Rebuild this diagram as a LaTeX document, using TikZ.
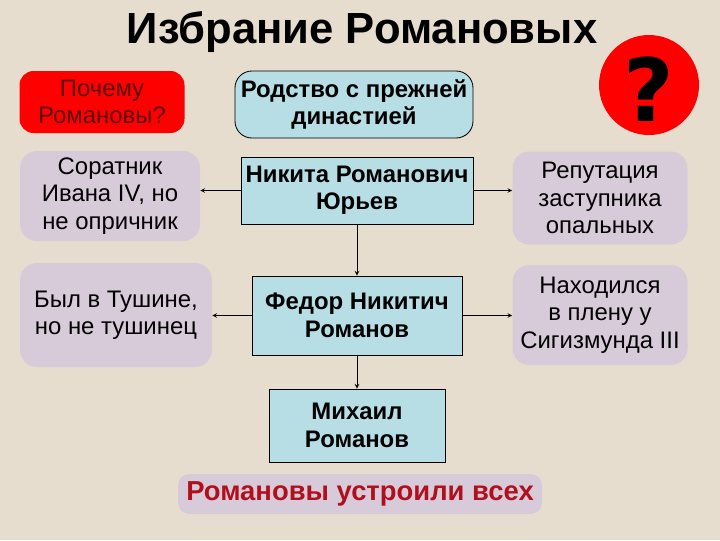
\documentclass[tikz,border=0pt]{standalone}
\usepackage{fontspec}
\setmainfont{Liberation Sans}
\newfontfamily\markfont{DejaVu Sans}
\usetikzlibrary{calc}
\definecolor{paper}{HTML}{E6DDCF}
\definecolor{sky}{HTML}{B6DEE4}
\definecolor{lilac}{HTML}{D8CBD9}
\definecolor{wine}{HTML}{B0101E}
\definecolor{deepred}{HTML}{5A0A0A}
\tikzstyle{reason} = [rectangle, rounded corners=12, fill=lilac, align=center, inner sep=2pt, font=\fontsize{17}{19.5}\selectfont]
\tikzstyle{person} = [rectangle, draw=black, line width=0.6pt, fill=sky, align=center, inner sep=2pt, font=\fontsize{17}{19.5}\selectfont\bfseries]
\tikzset{
  question/.style={
    rectangle, rounded corners=10, % red label at the top left
    fill=red, text=deepred,
    minimum width=165*0.025cm,
    minimum height=62*0.025cm,
    align=center,
    font=\fontsize{17}{19.5}\selectfont
  }
}
\tikzstyle{arrow} = [line width=0.5pt,->,>=stealth]

\begin{document}
\begin{tikzpicture}[x=0.025cm, y=-0.025cm]
    \fill[paper] (0,0) rectangle (720,540);
    \useasboundingbox (0,0) rectangle (720,540);
    \node (title) at (362,32) {\fontsize{31}{36}\selectfont\bfseries Избрание Романовых};
    \fill[red] (649,85) circle (50);
    \node (mark) at (649,89) {\markfont\fontsize{62}{66}\selectfont\bfseries ?};
    \node (why)[question] at (102,102) {Почему\\Романовы?};
    \node (kin)[person, rounded corners=12, minimum width=238*0.025cm, minimum height=67*0.025cm] at (354,104.5) {Родство с прежней\\династией};
    \node (nikita)[person, minimum width=232*0.025cm, minimum height=67*0.025cm] at (357,190.5) {Никита Романович\\Юрьев};
    \node (ally)[reason, minimum width=180*0.025cm, minimum height=90*0.025cm] at (110,196) {Соратник\\Ивана IV, но\\ не опричник};
    \node (fame)[reason, minimum width=175*0.025cm, minimum height=93*0.025cm] at (600,198) {Репутация\\заступника\\опальных};
    \node (fedor)[person, minimum width=210*0.025cm, minimum height=79*0.025cm] at (357,315.5) {Федор Никитич\\Романов};
    \node (tushino)[reason, minimum width=192*0.025cm, minimum height=104*0.025cm] at (116,315) {Был в Тушине,\\но не тушинец};
    \node (captive)[reason, minimum width=175*0.025cm, minimum height=100*0.025cm] at (600,315) {Находился\\в плену у\\Сигизмунда III};
    \node (mikhail)[person, minimum width=176*0.025cm, minimum height=73*0.025cm] at (357,425.5) {Михаил\\Романов};
    \node (verdict)[reason, rounded corners=8, text=wine, minimum width=364*0.025cm, minimum height=40*0.025cm, font=\fontsize{19.5}{22}\selectfont\bfseries] at (360,494) {Романовы устроили всех};
    \draw[arrow] (nikita.west) -- (ally.east |- nikita.west);
    \draw[arrow] (nikita.east) -- (fame.west |- nikita.east);
    \draw[arrow] (nikita) -- (fedor);
    \draw[arrow] (fedor.west) -- (tushino.east |- fedor.west);
    \draw[arrow] (fedor.east) -- (captive.west |- fedor.east);
    \draw[arrow] (fedor) -- (mikhail);
  \end{tikzpicture}
\end{document}
